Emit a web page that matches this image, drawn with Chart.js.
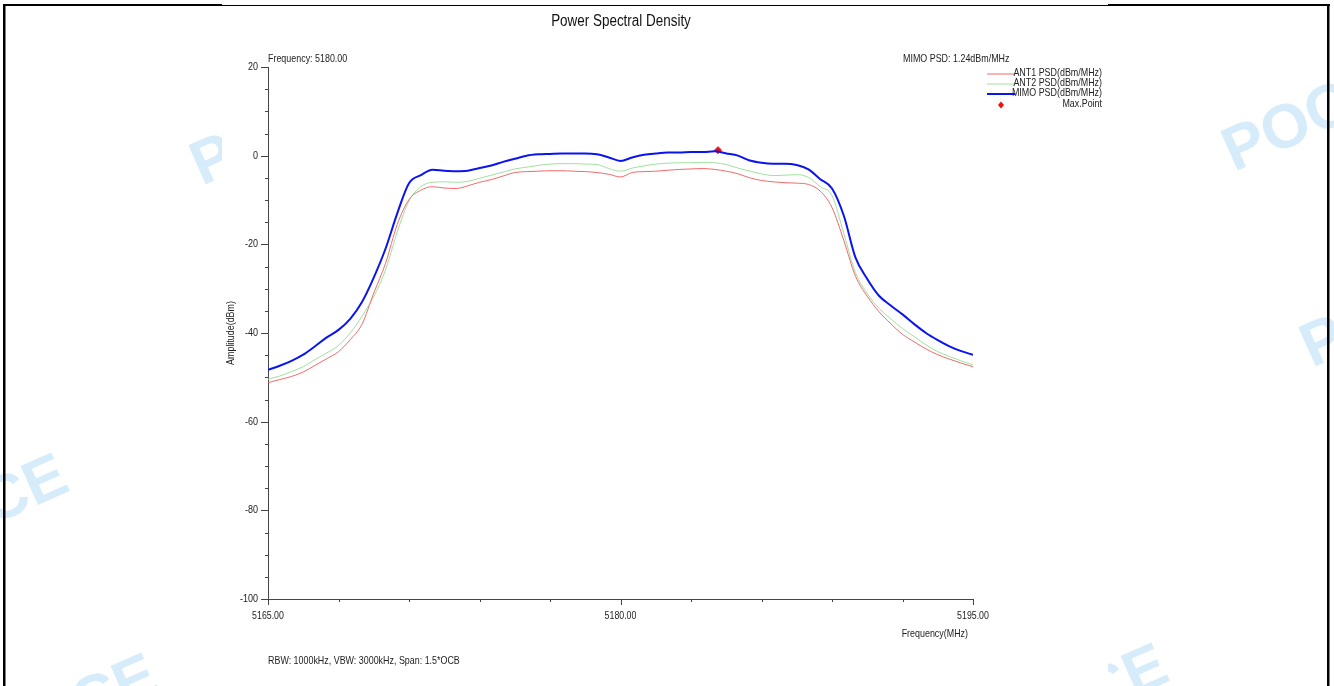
<!DOCTYPE html>
<html>
<head>
<meta charset="utf-8">
<title>Power Spectral Density</title>
<script src="https://cdn.jsdelivr.net/npm/chart.js@4.4.1/dist/chart.umd.min.js"></script>
<style>
  html, body { margin: 0; padding: 0; background: #fff; }
  canvas { display: block; }
</style>
</head>
<body>
<canvas id="psdChart" width="1334" height="686"></canvas>
<script>
// frequency points (MHz)
const freqs = [
  5165.0, 5165.5, 5166.0, 5166.5, 5167.0, 5167.5, 5168.0, 5168.5, 5169.0, 5169.5,
  5170.0, 5170.5, 5171.0, 5171.5, 5172.0, 5172.5, 5173.0, 5173.5, 5174.0, 5174.5,
  5175.0, 5175.5, 5176.0, 5176.5, 5177.0, 5177.5, 5178.0, 5178.5, 5179.0, 5179.5,
  5180.0, 5180.5, 5181.0, 5181.5, 5182.0, 5182.5, 5183.0, 5183.5, 5184.0, 5184.5,
  5185.0, 5185.5, 5186.0, 5186.5, 5187.0, 5187.5, 5188.0, 5188.5, 5189.0, 5189.5,
  5190.0, 5190.5, 5191.0, 5191.5, 5192.0, 5192.5, 5193.0, 5193.5, 5194.0, 5194.5,
  5195.0
];

// ANT1 PSD (dBm/MHz)
const ant1Psd = [
  -51.2, -50.5, -49.8, -48.8, -47.3, -45.8, -44.2, -41.5, -38.0, -31.0,
  -24.3, -15.5, -9.9, -7.8, -7.0, -7.3, -7.4, -6.8, -6.0, -5.4,
  -4.6, -3.8, -3.6, -3.5, -3.4, -3.4, -3.5, -3.6, -3.8, -4.2,
  -4.8, -3.8, -3.6, -3.5, -3.3, -3.1, -3.0, -2.9, -3.1, -3.5,
  -4.1, -5.0, -5.6, -5.9, -6.1, -6.2, -6.5, -8.0, -11.7, -19.1,
  -27.2, -31.7, -35.2, -37.9, -40.3, -42.0, -43.6, -44.9, -45.9, -46.8,
  -47.6
];

// ANT2 PSD (dBm/MHz)
const ant2Psd = [
  -50.4, -49.7, -48.7, -47.6, -46.0, -44.5, -42.8, -40.0, -36.2, -31.8,
  -25.8, -17.2, -10.2, -7.0, -6.0, -5.9, -6.0, -5.8, -5.1, -4.4,
  -3.7, -3.0, -2.6, -2.2, -1.9, -1.8, -1.8, -1.9, -2.0, -2.9,
  -3.5, -2.8, -2.3, -1.9, -1.7, -1.6, -1.6, -1.5, -1.6, -2.0,
  -2.8, -3.5, -4.1, -4.5, -4.4, -4.3, -4.9, -7.0, -9.0, -17.5,
  -26.4, -31.1, -34.4, -36.8, -39.0, -40.8, -42.7, -44.2, -45.3, -46.3,
  -47.2
];

// MIMO PSD (dBm/MHz)
const mimoPsd = [
  -48.3, -47.4, -46.3, -44.9, -43.0, -41.0, -39.3, -36.8, -33.0, -27.5,
  -21.0, -13.0, -6.2, -4.4, -3.2, -3.4, -3.5, -3.4, -2.8, -2.2,
  -1.4, -0.7, 0.0, 0.3, 0.4, 0.5, 0.5, 0.5, 0.3, -0.4,
  -1.2, -0.4, 0.2, 0.5, 0.7, 0.7, 0.8, 0.8, 1.0, 0.5,
  0.0, -1.1, -1.6, -1.8, -1.8, -2.1, -3.1, -5.3, -7.4, -13.5,
  -23.0, -27.8, -31.6, -33.8, -35.8, -38.0, -40.0, -41.6, -43.0, -44.1,
  -44.9
];

const maxPointFreq = 5184.15;
const maxPointPsd = 1.24;

const xTickValues = [5165, 5168, 5171, 5174, 5177, 5180, 5183, 5186, 5189, 5192, 5195];
const xTickLabels = ['5165.00', '', '', '', '', '5180.00', '', '', '', '', '5195.00'];
const yTickValues = [-100, -95, -90, -85, -80, -75, -70, -65, -60, -55, -50, -45, -40, -35, -30, -25,
  -20, -15, -10, -5, 0, 5, 10, 15, 20];
const yTickLabels = ['-100', '', '', '', '-80', '', '', '', '-60', '', '', '', '-40', '', '', '',
  '-20', '', '', '', '0', '', '', '', '20'];

const seriesNames = ['ANT1 PSD(dBm/MHz)', 'ANT2 PSD(dBm/MHz)', 'MIMO PSD(dBm/MHz)', 'Max.Point'];
const seriesColors = ['#f26a6a', '#9fe29f', '#0a14f0', '#ee1111'];

const sans = "'Liberation Sans', Arial, sans-serif";

function points(ys) {
  return freqs.map((f, i) => ({ x: f, y: ys[i] }));
}

// draws text squeezed horizontally, the original uses a narrow face
function narrowText(ctx, str, x, y, align, size, squeeze) {
  ctx.save();
  ctx.font = size + 'px ' + sans;
  ctx.textAlign = align;
  ctx.textBaseline = 'middle';
  ctx.translate(x, y);
  ctx.scale(squeeze, 1);
  ctx.fillText(str, 0, 0);
  ctx.restore();
}

const pagePlugin = {
  id: 'page',
  beforeDraw(chart) {
    const ctx = chart.ctx;
    ctx.save();
    ctx.fillStyle = '#fff';
    ctx.fillRect(0, 0, chart.width, chart.height);

    // watermark
    ctx.fillStyle = '#d6ecfb';
    ctx.font = "bold 62px " + sans;
    const marks = [
      ['POCE', 1234, 172, 'left'],
      ['POCE', 1312, 368, 'left'],
      ['POCE', 202, 186, 'left'],
      ['POCE', 72, 490, 'right'],
      ['POCE', 162, 690, 'right'],
      ['POCE', 1172, 680, 'right']
    ];
    marks.forEach(m => {
      ctx.save();
      ctx.translate(m[1], m[2]);
      ctx.rotate(-0.42);
      ctx.textAlign = m[3];
      ctx.fillText(m[0], 0, 0);
      ctx.restore();
    });

    // white chart picture area
    ctx.fillStyle = '#fff';
    ctx.fillRect(222, 6, 886, 680);

    // frame
    ctx.fillStyle = '#000';
    ctx.fillRect(3, 4, 219, 2);
    ctx.fillRect(222, 5, 886, 1);
    ctx.fillRect(1108, 4, 222, 2);
    ctx.fillRect(3, 4, 2.5, 682);
    ctx.fillRect(1327, 4, 2.5, 682);
    ctx.restore();
  },
  afterDraw(chart) {
    const ctx = chart.ctx;
    const xs = chart.scales.x;
    const ys = chart.scales.y;
    const area = chart.chartArea;
    ctx.save();

    // tick marks
    ctx.strokeStyle = '#444';
    ctx.lineWidth = 1;
    ctx.beginPath();
    yTickValues.forEach((v, i) => {
      const py = Math.round(ys.getPixelForValue(v)) + 0.5;
      const len = yTickLabels[i] ? 7 : 3;
      ctx.moveTo(area.left - len, py);
      ctx.lineTo(area.left, py);
    });
    xTickValues.forEach((v, i) => {
      const px = Math.round(xs.getPixelForValue(v)) + 0.5;
      const len = xTickLabels[i] ? 6 : 3;
      ctx.moveTo(px, area.bottom);
      ctx.lineTo(px, area.bottom + len);
    });
    ctx.stroke();

    // tick labels
    ctx.fillStyle = '#222';
    yTickValues.forEach((v, i) => {
      if (yTickLabels[i]) narrowText(ctx, yTickLabels[i], area.left - 10, ys.getPixelForValue(v), 'right', 11, 0.82);
    });
    xTickValues.forEach((v, i) => {
      if (xTickLabels[i]) narrowText(ctx, xTickLabels[i], xs.getPixelForValue(v), area.bottom + 17, 'center', 11, 0.8);
    });

    // title and notes
    ctx.fillStyle = '#111';
    narrowText(ctx, 'Power Spectral Density', 621, 22, 'center', 16, 0.84);
    ctx.fillStyle = '#222';
    narrowText(ctx, 'Frequency: 5180.00', 268, 59, 'left', 11, 0.81);
    narrowText(ctx, 'MIMO PSD: ' + maxPointPsd.toFixed(2) + 'dBm/MHz', 903, 59, 'left', 11, 0.81);
    narrowText(ctx, 'RBW: 1000kHz, VBW: 3000kHz, Span: 1.5*OCB', 268, 661, 'left', 11, 0.81);
    narrowText(ctx, 'Frequency(MHz)', 968, 634, 'right', 11, 0.81);

    ctx.save();
    ctx.translate(231, 333);
    ctx.rotate(-Math.PI / 2);
    narrowText(ctx, 'Amplitude(dBm)', 0, 0, 'center', 11, 0.81);
    ctx.restore();

    // legend
    const rowY = [74, 84, 94, 105];
    seriesNames.forEach((name, i) => {
      if (i < 3) {
        ctx.strokeStyle = seriesColors[i];
        ctx.lineWidth = i === 2 ? 2 : 1;
        ctx.beginPath();
        ctx.moveTo(987, rowY[i]);
        ctx.lineTo(1015, rowY[i]);
        ctx.stroke();
      } else {
        ctx.fillStyle = seriesColors[i];
        ctx.beginPath();
        ctx.moveTo(1001, rowY[i] - 3.5);
        ctx.lineTo(1004, rowY[i]);
        ctx.lineTo(1001, rowY[i] + 3.5);
        ctx.lineTo(998, rowY[i]);
        ctx.closePath();
        ctx.fill();
      }
      ctx.fillStyle = '#222';
      narrowText(ctx, name, 1102, rowY[i] - 1, 'right', 11, 0.81);
    });
    ctx.restore();
  }
};

new Chart(document.getElementById('psdChart'), {
  type: 'line',
  data: {
    datasets: [
      {
        label: seriesNames[0],
        data: points(ant1Psd),
        borderColor: seriesColors[0],
        borderWidth: 1,
        pointRadius: 0,
        cubicInterpolationMode: 'monotone'
      },
      {
        label: seriesNames[1],
        data: points(ant2Psd),
        borderColor: seriesColors[1],
        borderWidth: 1,
        pointRadius: 0,
        cubicInterpolationMode: 'monotone'
      },
      {
        label: seriesNames[2],
        data: points(mimoPsd),
        borderColor: seriesColors[2],
        borderWidth: 2,
        pointRadius: 0,
        cubicInterpolationMode: 'monotone'
      },
      {
        type: 'scatter',
        label: seriesNames[3],
        data: [{ x: maxPointFreq, y: maxPointPsd }],
        backgroundColor: seriesColors[3],
        borderColor: seriesColors[3],
        pointStyle: 'rectRot',
        pointRadius: 3.5,
        showLine: false
      }
    ]
  },
  options: {
    responsive: false,
    animation: false,
    events: [],
    layout: { padding: { left: 0, right: 361, top: 67, bottom: 0 } },
    plugins: {
      legend: { display: false },
      title: { display: false },
      tooltip: { enabled: false }
    },
    scales: {
      x: {
        type: 'linear',
        min: 5165,
        max: 5195,
        afterBuildTicks: s => { s.ticks = xTickValues.map(v => ({ value: v })); },
        afterFit: s => { s.height = 87; },
        grid: { color: 'transparent', drawTicks: false },
        border: { display: true, color: '#444', width: 1 },
        ticks: { display: false }
      },
      y: {
        min: -100,
        max: 20,
        afterBuildTicks: s => { s.ticks = yTickValues.map(v => ({ value: v })); },
        afterFit: s => { s.width = 268; },
        grid: { color: 'transparent', drawTicks: false },
        border: { display: true, color: '#444', width: 1 },
        ticks: { display: false }
      }
    }
  },
  plugins: [pagePlugin]
});
</script>
</body>
</html>
